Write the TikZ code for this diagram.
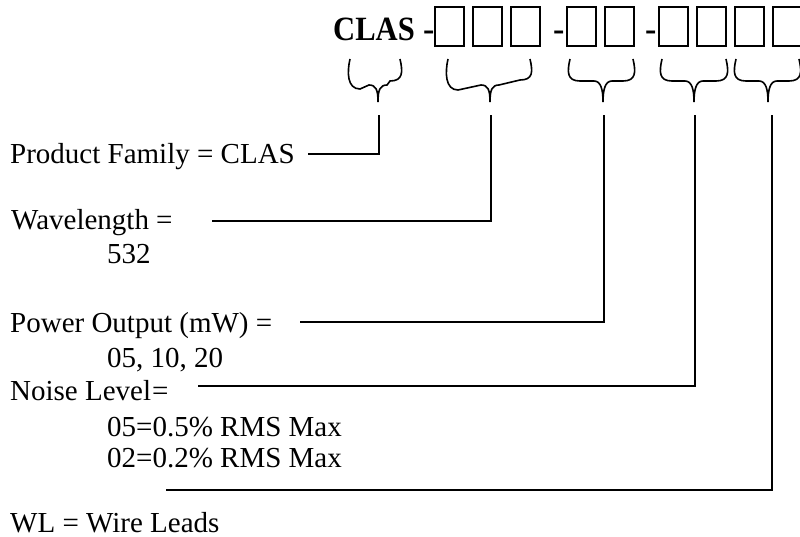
\documentclass[tikz,border=0pt]{standalone}
\usepackage{fontspec}
\setmainfont{Liberation Serif}
\newcommand\mybrace[5]{%
  \draw[conn] (#1,59) .. controls (#1-3,72) and (#1-3,#4) .. (#1+10,#4)
     -- (#2-9,{(#4+#5)/2}) .. controls (#2-2,{(#4+#5)/2}) and (#2,90) .. (#2,102);
  \draw[conn] (#2,102) .. controls (#2,90) and (#2+2,{(#4+#5)/2}) .. (#2+9,{(#4+#5)/2})
     -- (#3-10,#5) .. controls (#3+3,#5) and (#3+3,72) .. (#3,59);
}
\begin{document}
\begin{tikzpicture}[x=1pt,y=-1pt,
  conn/.style={line width=1.6pt, line cap=butt},
  digitbox/.style={line width=1.5pt},
  lbl/.style={anchor=base west, inner sep=0pt, font=\fontsize{29}{32}\selectfont},
  hd/.style={anchor=base west, inner sep=0pt, font=\fontsize{34}{38}\selectfont\bfseries}]
\useasboundingbox (0,0) rectangle (800,537);
\clip (0,0) rectangle (800,537);

% header
\node[hd] (clas) at (333,41) {\scalebox{0.9}[1]{CLAS}};
\node[hd] (d1) at (423,41) {-};
\node[hd] (d2) at (553,41) {-};
\node[hd] (d3) at (645,41) {-};
\foreach \x/\n in {435/b1,473/b2,511/b3,567/b4,605/b5,659/b6,697/b7,735/b8,773/b9}
  \draw[digitbox] (\x,7) rectangle (\x+29,46);

% braces
\mybrace{350}{378}{400}{89}{81}
\mybrace{448}{490}{530}{90}{80}
\mybrace{570}{603}{633}{81}{81}
\mybrace{662}{694}{726}{81}{81}
\mybrace{736}{768}{799}{81}{81}

% tips of the leader lines
\coordinate (t1) at (379,115);
\coordinate (t2) at (491,115);
\coordinate (t3) at (604,115);
\coordinate (t4) at (695,115);
\coordinate (t5) at (772,115);

% labels
\node[lbl] (pf) at (10,164) {Product Family = CLAS};
\node[lbl] (wl) at (11,230) {Wavelength =};
\node[lbl] (wlv) at (107,264) {532};
\node[lbl] (po) at (10,332) {Power Output (mW) =};
\node[lbl] (pov) at (107,367) {05, 10, 20};
\node[lbl] (nl) at (10,400) {Noise Level\hspace{1pt}=};
\node[lbl] (nlv1) at (107,436) {05=0.5\% RMS Max};
\node[lbl] (nlv2) at (107,467) {02=0.2\% RMS Max};
\node[lbl, text depth=0pt] (wire) at (10,532) {WL = Wire Leads};

% leader line starts
\coordinate (s1) at (308,154);
\coordinate (s2) at (212,221);
\coordinate (s3) at (300,322);
\coordinate (s4) at (198,386);
\coordinate (s5) at (166,490);

\draw[conn] (s1) -| (t1);
\draw[conn] (s2) -| (t2);
\draw[conn] (s3) -| (t3);
\draw[conn] (s4) -| (t4);
\draw[conn] (s5) -| (t5);
\end{tikzpicture}
\end{document}
